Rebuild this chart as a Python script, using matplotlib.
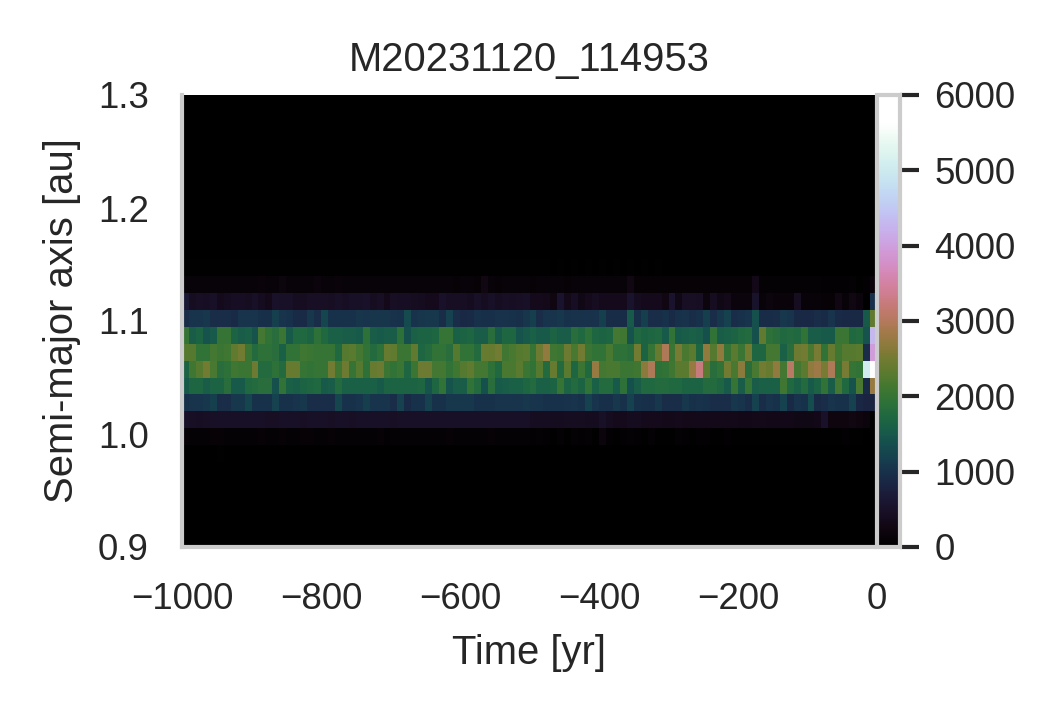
import numpy as np
import matplotlib
matplotlib.use("Agg")
import matplotlib.pyplot as plt
from matplotlib.colors import ListedColormap

plt.rcParams['font.family'] = ['Liberation Sans', 'DejaVu Sans']
plt.rcParams['text.color'] = '.15'
plt.rcParams['axes.labelcolor'] = '.15'
plt.rcParams['xtick.color'] = '.15'
plt.rcParams['ytick.color'] = '.15'

title = "M20231120_114953"
xticks = [-1000, -800, -600, -400, -200, 0]
yticks = [0.9, 1.0, 1.1, 1.2, 1.3]
cbar_ticks = [0, 1000, 2000, 3000, 4000, 5000, 6000]

# time bins and semi-major axis bins
time_edges = np.arange(-1000, 1, 10)
a_edges = 0.9 + 0.015 * np.arange(0, 28)

# counts per row, 100 time bins each
a_0975 = [15, 15, 20, 15, 15, 30, 15, 15, 15, 20, 15, 15, 15, 15, 20, 15, 15, 15, 20, 15, 15, 15, 15, 15, 15,
          15, 15, 15, 20, 15, 15, 15, 15, 15, 15, 15, 15, 15, 15, 15, 15, 15, 15, 15, 15, 15, 15, 15, 15, 15,
          15, 15, 15, 15, 15, 15, 15, 15, 20, 15, 15, 15, 15, 15, 15, 15, 15, 15, 15, 15, 15, 15, 15, 15, 15,
          8, 8, 8, 8, 8, 8, 8, 8, 8, 8, 8, 8, 8, 8, 8, 8, 8, 8, 8, 8, 8, 8, 8, 8, 0]
a_0990 = [100, 80, 90, 90, 100, 110, 90, 90, 90, 90, 90, 110, 80, 90, 110, 80, 80, 100, 100, 90, 80, 100, 80, 80, 80,
          80, 80, 90, 100, 70, 80, 80, 90, 80, 80, 80, 80, 80, 100, 80, 80, 80, 80, 80, 100, 80, 80, 80, 80, 80,
          60, 90, 60, 45, 90, 45, 80, 60, 90, 45, 170, 60, 45, 60, 90, 60, 45, 90, 45, 45, 45, 90, 70, 45, 60,
          60, 45, 45, 70, 45, 45, 45, 30, 45, 30, 30, 45, 30, 45, 30, 30, 30, 45, 30, 30, 60, 30, 30, 15, 15]
a_1005 = [470, 460, 440, 450, 490, 490, 490, 480, 480, 470, 480, 470, 460, 460, 470, 470, 480, 450, 480, 480, 480, 460, 480, 470, 460,
          470, 470, 480, 480, 470, 460, 480, 470, 470, 470, 470, 480, 470, 470, 470, 470, 470, 470, 480, 470, 470, 480, 470, 470, 470,
          410, 410, 410, 390, 390, 410, 410, 410, 390, 390, 480, 390, 370, 370, 390, 390, 370, 370, 370, 340, 340, 370, 340, 340, 340,
          330, 330, 350, 340, 340, 320, 320, 330, 350, 320, 320, 320, 310, 300, 300, 300, 310, 500, 230, 220, 220, 280, 220, 170, 0]
a_1020 = [1000, 1050, 1050, 1100, 1150, 950, 950, 1100, 1100, 1250, 1000, 1000, 1000, 1200, 1000, 1000, 1050, 1100, 950, 950, 950, 950, 1250, 1000, 1000,
          1050, 1150, 1050, 1050, 1050, 950, 1200, 900, 1000, 1000, 1200, 1000, 1000, 1100, 1100, 1100, 1100, 1000, 1000, 1000, 1050, 1050, 1050, 1050, 1100,
          1050, 1050, 1000, 1000, 1000, 1020, 1050, 1000, 1200, 1050, 980, 980, 1100, 1000, 1200, 1000, 980, 980, 1100, 950, 950, 950, 1100, 1000, 1020,
          1000, 950, 950, 950, 1100, 1050, 950, 1200, 950, 1050, 1000, 1200, 900, 1050, 1000, 1350, 900, 950, 1050, 1000, 1000, 1200, 850, 800, 800]
a_1035 = [1500, 1700, 1700, 1550, 1650, 1650, 1850, 1500, 1500, 1750, 1800, 1850, 1850, 1400, 1950, 1600, 1550, 1650, 1700, 1750, 1500, 1550, 1800, 1600, 1600,
          1600, 1600, 1600, 1500, 1650, 1650, 1650, 1650, 1650, 1700, 1450, 1700, 1950, 1450, 1550, 1550, 1950, 1800, 1400, 1850, 1500, 1550, 1600, 1600, 1700,
          1800, 1600, 1600, 1650, 2000, 1650, 1800, 1650, 1950, 1600, 1800, 1800, 1500, 1900, 1400, 1550, 1750, 1750, 1800, 1800, 1750, 1750, 1650, 1650, 1650,
          1800, 1800, 1700, 1500, 2000, 1550, 2000, 1550, 1600, 1600, 1600, 2100, 1750, 1600, 1800, 1500, 1650, 1950, 1550, 2150, 1750, 1450, 2200, 900, 2750]
a_1050 = [1650, 2100, 2250, 2500, 2200, 1850, 1900, 2100, 2050, 2050, 2450, 1800, 1800, 1900, 1800, 2400, 2400, 2000, 1950, 2000, 2000, 2500, 2100, 2450, 2000,
          2250, 1900, 2400, 2450, 2050, 1950, 2050, 1700, 2050, 2450, 2450, 2150, 2150, 1950, 2100, 2250, 2350, 2150, 2150, 1900, 1750, 2200, 2200, 2300, 2050,
          1950, 2250, 1800, 2400, 1800, 2300, 1700, 2050, 1750, 2750, 2150, 2200, 2200, 2050, 2050, 2100, 2650, 2950, 1900, 1950, 2100, 2300, 2300, 2750, 3250,
          2300, 1850, 1950, 2500, 2200, 2650, 1850, 2200, 2500, 2400, 2700, 2150, 3050, 2150, 2300, 2700, 2800, 2550, 2950, 2000, 2550, 2000, 1950, 5050, 6000]
a_1065 = [2250, 2250, 1950, 1950, 2150, 2050, 2100, 2350, 2500, 2050, 1800, 1900, 1900, 1850, 1600, 1950, 1950, 2100, 2050, 2000, 2000, 2000, 1750, 2250, 2300,
          2150, 1950, 1800, 1900, 2400, 2350, 2050, 2050, 2350, 1700, 1800, 1950, 1950, 1850, 2250, 1950, 1950, 1800, 2400, 2400, 2500, 2100, 2200, 2250, 2300,
          2000, 2450, 2700, 2100, 2050, 2450, 2200, 2500, 2050, 1950, 1950, 2200, 1900, 1900, 1850, 2500, 1650, 2000, 2400, 2950, 2050, 2550, 2200, 2300, 1700,
          2700, 2250, 2700, 2000, 2300, 2050, 2500, 1700, 1700, 2150, 2150, 1600, 1850, 2450, 2500, 2200, 2550, 1950, 2400, 2100, 2250, 2250, 2300, 950, 3950]
a_1080 = [2000, 1550, 1650, 1450, 1500, 2000, 2000, 1650, 1550, 1600, 1450, 2150, 1950, 1850, 2050, 1500, 1750, 1750, 1650, 1900, 1750, 1600, 1600, 1550, 1550,
          1500, 1900, 1550, 1500, 1550, 1550, 1900, 1400, 1600, 1650, 1650, 1700, 2000, 2000, 1600, 1650, 1700, 1550, 1550, 1850, 1500, 1700, 1700, 1450, 1500,
          1600, 1500, 1500, 1650, 1550, 1550, 1850, 1750, 1900, 1700, 1650, 1700, 2150, 2100, 1450, 1750, 1650, 1700, 1750, 1500, 1950, 1500, 1550, 1600, 1550,
          1400, 1950, 1550, 1600, 1650, 1750, 1800, 1400, 2350, 1900, 1850, 1750, 1800, 1750, 1950, 1550, 1550, 1500, 1500, 2050, 2050, 1750, 1800, 1450, 4300]
a_1095 = [950, 1050, 1050, 1100, 950, 950, 950, 900, 1050, 1050, 1050, 980, 980, 1150, 1050, 1000, 900, 900, 1080, 950, 1250, 1000, 1000, 1000, 1000,
          1070, 1040, 1070, 1070, 1070, 1030, 1000, 1320, 1020, 1070, 1080, 1100, 950, 1200, 950, 880, 900, 1000, 980, 980, 1030, 1030, 1000, 980, 1060,
          1150, 950, 1050, 1050, 1080, 1000, 1030, 1030, 1030, 1020, 1150, 930, 930, 930, 1500, 980, 1150, 950, 950, 1000, 900, 1000, 1020, 950, 1000,
          1150, 950, 1100, 1200, 950, 1000, 1050, 1400, 930, 930, 950, 1100, 1050, 880, 880, 880, 950, 900, 1050, 900, 880, 880, 880, 1500, 2350]
a_1110 = [620, 400, 450, 430, 470, 370, 380, 440, 440, 420, 480, 380, 330, 500, 480, 490, 400, 400, 450, 460, 450, 440, 480, 440, 480,
          470, 500, 400, 450, 350, 450, 440, 430, 420, 380, 360, 360, 500, 440, 440, 440, 380, 470, 400, 480, 400, 460, 440, 460, 480,
          360, 360, 350, 240, 560, 330, 430, 300, 360, 420, 370, 360, 370, 370, 560, 380, 370, 360, 360, 280, 550, 300, 450, 450, 440,
          210, 400, 290, 330, 170, 170, 170, 530, 130, 190, 150, 150, 150, 400, 130, 130, 130, 110, 100, 280, 140, 280, 170, 0, 1000]
a_1125 = [130, 130, 130, 130, 140, 140, 140, 140, 130, 140, 140, 150, 140, 140, 210, 140, 120, 140, 140, 180, 130, 140, 150, 140, 130,
          120, 140, 130, 130, 130, 140, 140, 130, 130, 130, 140, 130, 130, 120, 110, 130, 120, 100, 280, 130, 110, 130, 120, 120, 120,
          110, 130, 120, 130, 120, 100, 120, 120, 130, 120, 130, 120, 120, 130, 260, 100, 100, 110, 100, 100, 110, 100, 100, 100, 110,
          100, 100, 100, 100, 100, 100, 100, 320, 80, 80, 80, 80, 80, 80, 80, 80, 80, 70, 70, 70, 70, 80, 40, 50, 150]
a_1140 = [30, 25, 30, 25, 30, 25, 30, 25, 30, 25, 30, 30, 25, 30, 35, 25, 30, 25, 30, 30, 25, 30, 25, 30, 25,
          25, 30, 25, 30, 25, 30, 25, 30, 25, 30, 25, 30, 25, 30, 25, 30, 25, 30, 25, 30, 25, 30, 25, 30, 25,
          25, 25, 25, 15, 25, 15, 25, 15, 25, 15, 25, 15, 25, 15, 25, 15, 25, 15, 25, 15, 15, 15, 15, 15, 15,
          15, 15, 15, 15, 15, 15, 15, 15, 15, 15, 15, 15, 15, 15, 15, 15, 15, 15, 15, 15, 15, 15, 15, 15, 15]

# only these rows hold counts, the rest of the grid stays empty
rows = {5: a_0975, 6: a_0990, 7: a_1005, 8: a_1020, 9: a_1035, 10: a_1050, 11: a_1065,
        12: a_1080, 13: a_1095, 14: a_1110, 15: a_1125, 16: a_1140}

counts = np.zeros((len(a_edges) - 1, len(time_edges) - 1))
for k, row in rows.items():
    counts[k] = row

# reference goes white a bit before the top of the colorbar
cmap = ListedColormap(plt.cm.cubehelix(np.clip(np.linspace(0, 1, 256) * 1.06, 0, 1)))

fig = plt.figure(figsize=(3.54, 2.36), dpi=300)
ax = fig.add_axes([182 / 1062, 1 - 547 / 708, (877 - 182) / 1062, (547 - 95) / 708])
cax = fig.add_axes([877 / 1062, 1 - 547 / 708, 23 / 1062, (547 - 95) / 708])

mesh = ax.pcolormesh(time_edges, a_edges, counts, cmap=cmap, vmin=0, vmax=6000, rasterized=True)
ax.set_xlim(-1000, 0)
ax.set_ylim(0.9, 1.3)
ax.set_xticks(xticks)
ax.set_yticks(yticks)
ax.tick_params(axis='both', length=0, labelsize=8.8)
ax.tick_params(axis='x', pad=8.4)
ax.tick_params(axis='y', pad=8)
ax.set_xlabel("Time [yr]", fontsize=9.6, labelpad=4)
ax.set_ylabel("Semi-major axis [au]", fontsize=9.6, labelpad=4)
ax.set_title(title, fontsize=9.6, pad=5.8)
for side in ['top', 'right']:
    ax.spines[side].set_visible(False)
for side in ['left', 'bottom']:
    ax.spines[side].set_color('.8')
    ax.spines[side].set_linewidth(1)

cb = fig.colorbar(mesh, cax=cax)
cb.set_ticks(cbar_ticks)
cb.ax.tick_params(length=4.5, width=1, labelsize=8.8, pad=3.7)
cb.outline.set_edgecolor('.8')
cb.outline.set_linewidth(1)

fig.savefig("out.png", dpi=300)
plt.close(fig)
